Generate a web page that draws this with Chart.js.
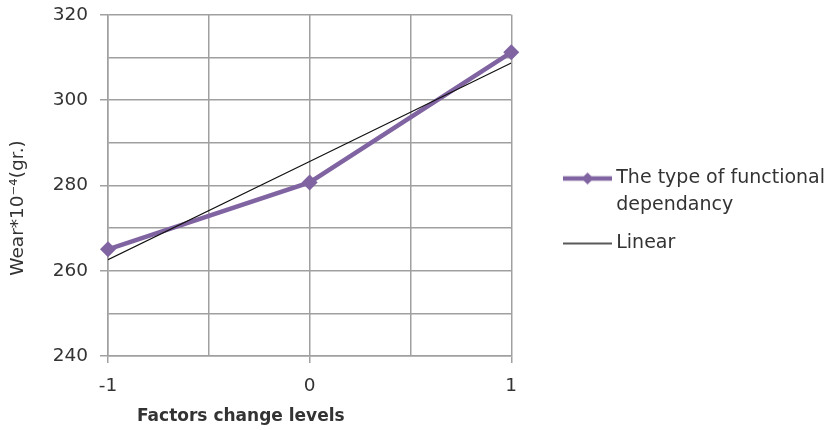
<!DOCTYPE html>
<html>
<head>
<meta charset="utf-8">
<script src="https://cdn.jsdelivr.net/npm/chart.js@4.4.0/dist/chart.umd.min.js"></script>
<style>
html,body{margin:0;padding:0;background:#fff;}
#wrap{width:833px;height:430px;position:relative;}
</style>
</head>
<body>
<div id="wrap"><canvas id="c" width="833" height="430"></canvas></div>
<script>
const levels = [-1, 0, 1];
const functionalValues = [265, 280.7, 311.2];
const linearValues = [262.6, 285.6, 308.7];
const functionalLabel = ['The type of functional', 'dependancy'];
const linearLabel = 'Linear';
const yTickLabels = [240, 260, 280, 300, 320];
const xTickLabels = [-1, 0, 1];
const xTitle = 'Factors change levels';
const yTitle = 'Wear*10\u207B\u2074(gr.)';

const PURPLE = '#8064A2';
const GRID = '#a0a0a0';
const TEXT = '#333333';
const FONT = 'DejaVu Sans';

function markerImage(withDiamond, color, lw) {
  const cv = document.createElement('canvas');
  cv.width = 49; cv.height = 16;
  const g = cv.getContext('2d');
  g.strokeStyle = color; g.lineWidth = lw;
  g.beginPath(); g.moveTo(0, 8); g.lineTo(49, 8); g.stroke();
  if (withDiamond) {
    g.fillStyle = color;
    g.beginPath(); g.moveTo(24.5, 2); g.lineTo(30.5, 8); g.lineTo(24.5, 14); g.lineTo(18.5, 8); g.closePath(); g.fill();
  }
  return cv;
}

const axisTitlePlugin = {
  id: 'axisTitlePlugin',
  afterDraw(chart) {
    const ctx = chart.ctx;
    ctx.save();
    ctx.fillStyle = TEXT;
    ctx.font = 'bold 17px "' + FONT + '"';
    ctx.textAlign = 'left';
    ctx.textBaseline = 'middle';
    ctx.fillText(xTitle, 137, 417);
    ctx.translate(18, 208);
    ctx.rotate(-Math.PI / 2);
    ctx.font = '18.5px "' + FONT + '"';
    ctx.textAlign = 'center';
    ctx.fillText(yTitle, 0, 0);
    ctx.restore();
  }
};

new Chart(document.getElementById('c'), {
  type: 'scatter',
  data: {
    datasets: [
      {
        label: functionalLabel,
        data: levels.map((x, i) => ({x: x, y: functionalValues[i]})),
        showLine: true,
        clip: false,
        borderColor: PURPLE,
        backgroundColor: PURPLE,
        borderWidth: 4.5,
        pointStyle: 'rectRot',
        pointRadius: 8,
        pointHoverRadius: 8,
        pointBorderWidth: 0,
        order: 1
      },
      {
        label: linearLabel,
        data: levels.map((x, i) => ({x: x, y: linearValues[i]})),
        showLine: true,
        borderColor: '#111111',
        backgroundColor: '#111111',
        borderWidth: 1.2,
        pointRadius: 0,
        pointHoverRadius: 0,
        order: 0
      }
    ]
  },
  options: {
    responsive: false,
    animation: false,
    devicePixelRatio: 1,
    layout: {padding: {top: -3, right: -2, bottom: 5, left: 0}},
    scales: {
      x: {
        type: 'linear', min: -1, max: 1,
        ticks: {
          stepSize: 0.5,
          color: TEXT,
          font: {family: FONT, size: 18.5},
          padding: 12,
          maxRotation: 0,
          callback: v => xTickLabels.includes(v) ? String(v) : ''
        },
        grid: {
          color: GRID, lineWidth: 1.5, tickLength: 7,
          tickColor: c => (c.tick && Number.isInteger(c.tick.value)) ? GRID : 'rgba(0,0,0,0)'
        },
        border: {color: GRID, width: 1.5},
        afterFit(s) { s.height = 69; }
      },
      y: {
        min: 240, max: 320,
        ticks: {
          stepSize: 10,
          color: TEXT,
          font: {family: FONT, size: 18.5, lineHeight: 0.3},
          padding: 12,
          callback: v => yTickLabels.includes(v) ? String(v) : ''
        },
        grid: {
          color: GRID, lineWidth: 1.5, tickLength: 8,
          tickColor: c => (c.tick && c.tick.value % 20 === 0) ? GRID : 'rgba(0,0,0,0)'
        },
        border: {color: GRID, width: 1.5},
        afterFit(s) { s.width = 108; }
      },
      gap: {
        type: 'linear',
        position: 'right',
        display: true,
        grid: {display: false, drawTicks: false},
        ticks: {display: false},
        border: {display: false},
        afterFit(s) { s.width = 46; }
      }
    },
    plugins: {
      legend: {
        position: 'right',
        align: 'center',
        maxWidth: 400,
        labels: {
          color: TEXT,
          font: {family: FONT, size: 19, lineHeight: '27px'},
          usePointStyle: true,
          pointStyleWidth: 38.5,
          padding: 11,
          generateLabels(chart) {
            return chart.data.datasets.map((ds, i) => ({
              text: ds.label,
              fillStyle: ds.borderColor,
              strokeStyle: ds.borderColor,
              lineWidth: 0,
              pointStyle: i === 0 ? markerImage(true, PURPLE, 4.5) : markerImage(false, '#222', 1.5),
              fontColor: TEXT,
              datasetIndex: i,
              hidden: false
            }));
          }
        }
      },
      tooltip: {enabled: false}
    }
  },
  plugins: [axisTitlePlugin]
});
</script>
</body>
</html>
